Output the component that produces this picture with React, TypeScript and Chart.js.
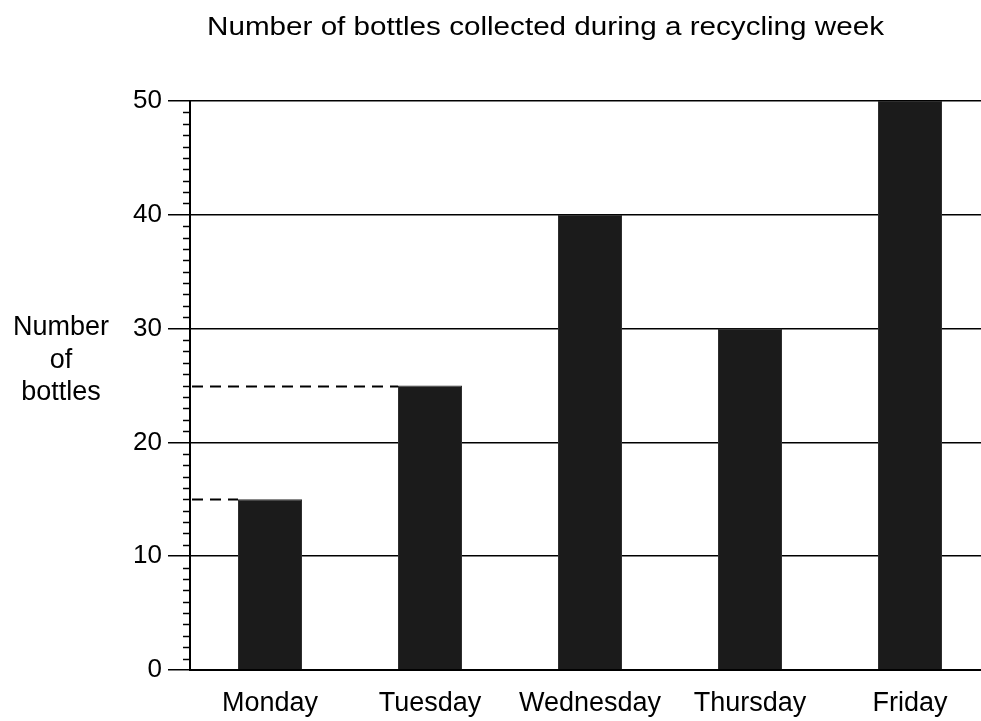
import React, { useEffect, useRef } from "react";
import { Chart, registerables } from "chart.js";

Chart.register(...registerables);

const chartTitle = "Number of bottles collected during a recycling week";
const yAxisTitleLines = ["Number", "of", "bottles"];
const days = ["Monday", "Tuesday", "Wednesday", "Thursday", "Friday"];
const bottles = [15, 25, 40, 30, 50];
const dashedGuideDays = ["Monday", "Tuesday"];
const yMin = 0;
const yMax = 50;
const yStep = 10;
const yMinorStep = 1;

const FONT = "'Liberation Sans', Arial, Helvetica, sans-serif";

const decorPlugin = {
  id: "decor",
  afterDraw(chart: any) {
    const ctx = chart.ctx as CanvasRenderingContext2D;
    const area = chart.chartArea;
    const y = chart.scales.y;
    ctx.save();
    // minor ticks on the y axis
    ctx.strokeStyle = "#000";
    ctx.lineWidth = 1.5;
    for (let v = yMin; v <= yMax; v += yMinorStep) {
      if (v % yStep === 0) continue;
      const py = Math.round(y.getPixelForValue(v)) + 0.5;
      ctx.beginPath();
      ctx.moveTo(area.left - 7, py);
      ctx.lineTo(area.left + 1, py);
      ctx.stroke();
    }
    // dashed guide lines
    const meta = chart.getDatasetMeta(0);
    ctx.setLineDash([11, 7]);
    ctx.lineWidth = 1.8;
    dashedGuideDays.forEach((d) => {
      const i = days.indexOf(d);
      const bar: any = meta.data[i];
      if (!bar) return;
      const props = bar.getProps(["x", "y", "width"], true);
      const py = Math.round(props.y) + 0.5;
      ctx.beginPath();
      ctx.moveTo(area.left + 2, py);
      ctx.lineTo(props.x - props.width / 2, py);
      ctx.stroke();
    });
    ctx.setLineDash([]);
    // title (stretched like the scanned original)
    ctx.fillStyle = "#000";
    ctx.font = `26px ${FONT}`;
    ctx.textAlign = "center";
    ctx.textBaseline = "alphabetic";
    const w = ctx.measureText(chartTitle).width;
    const sx = 677 / w;
    ctx.save();
    ctx.translate(545.5, 35);
    ctx.scale(sx, 1);
    ctx.fillText(chartTitle, 0, 0);
    ctx.restore();
    // y axis title
    ctx.font = `27px ${FONT}`;
    const baselines = [335, 368, 400];
    yAxisTitleLines.forEach((line, i) => {
      ctx.fillText(line, 61, baselines[i]);
    });
    ctx.restore();
  },
};

export default function App() {
  const ref = useRef<HTMLCanvasElement | null>(null);
  useEffect(() => {
    if (!ref.current) return;
    const chart = new Chart(ref.current, {
      type: "bar",
      data: {
        labels: days,
        datasets: [
          {
            data: bottles,
            backgroundColor: "#1b1b1b",
            borderColor: "#2e2e2e",
            borderWidth: 1,
            barPercentage: 0.4,
            categoryPercentage: 1,
          },
        ],
      },
      options: {
        animation: false,
        responsive: false,
        devicePixelRatio: 1,
        layout: { padding: { top: 101, left: 0, right: 0, bottom: 0 } },
        plugins: {
          legend: { display: false },
          title: { display: false },
          tooltip: { enabled: false },
        },
        scales: {
          x: {
            grid: { display: false },
            border: { display: true, color: "#000", width: 2 },
            ticks: {
              color: "#000",
              font: { family: FONT, size: 27 },
              padding: 9,
              maxRotation: 0,
              autoSkip: false,
            },
            afterFit: (s: any) => {
              s.height = 51;
            },
          },
          y: {
            min: yMin,
            max: yMax,
            ticks: {
              stepSize: yStep,
              color: "#000",
              font: { family: FONT, size: 26 },
              padding: 6,
            },
            grid: {
              color: "#000",
              lineWidth: 1.5,
              tickLength: 22,
              drawTicks: true,
            },
            border: { display: true, color: "#000", width: 2 },
            afterFit: (s: any) => {
              s.width = 190;
            },
          },
        },
      },
      plugins: [decorPlugin],
    });
    return () => chart.destroy();
  }, []);
  return (
    <div
      style={{
        position: "absolute",
        left: 0,
        top: 0,
        width: 981,
        height: 721,
        overflow: "hidden",
        background: "#fff",
      }}
    >
      <canvas ref={ref} width={990} height={721} style={{ display: "block" }} />
    </div>
  );
}
